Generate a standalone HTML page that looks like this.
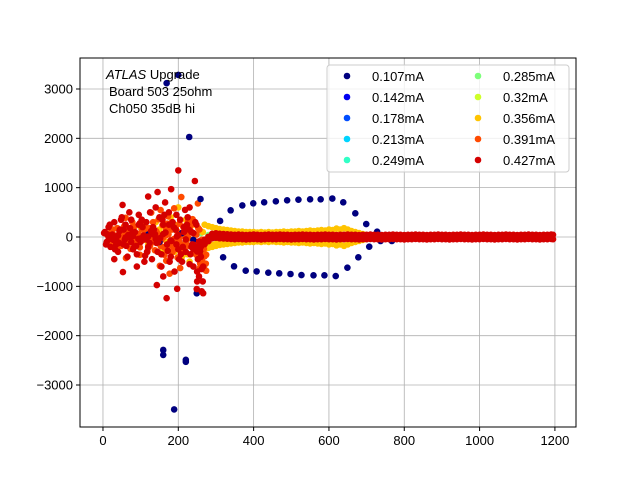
<!DOCTYPE html>
<html><head><meta charset="utf-8"><style>
body{margin:0;background:#fff;}
svg{display:block;font-family:"Liberation Sans","DejaVu Sans",sans-serif;}
</style></head><body>
<svg id="chart" width="640" height="480" viewBox="0 0 640 480"></svg>
<script>
// ---- data ----
const seriesLabels = ["0.107mA","0.142mA","0.178mA","0.213mA","0.249mA","0.285mA","0.32mA","0.356mA","0.391mA","0.427mA"];
const seriesColors = ["#00007f","#0000f1","#004dff","#00d4ff","#31ffc6","#7dff7a","#ceff29","#ffc400","#ff4a00","#d40000"];
const xTicks = [0,200,400,600,800,1000,1200];
const yTicks = [-3000,-2000,-1000,0,1000,2000,3000];
// navy (0.107mA)
const navyX = [259,311,339,370,399,428,459,489,519,550,578,609,638,670,699,728,
  319,348,379,408,439,468,498,527,559,588,618,649,678,707,737,767,
  169,200,229,160,160,220,220,189,249,150,120,210,240];
const navyY = [770,325,540,640,683,703,723,743,757,764,764,780,703,480,263,108,
  -412,-595,-683,-697,-724,-737,-750,-771,-777,-777,-791,-622,-412,-196,-81,-81,
  3117,3284,2027,-2290,-2390,-2490,-2530,-3495,-1142,-100,50,80,-60];
// orange (0.356mA) band + cloud
const orangeX = [100,120,140,160,180,190,200,210,220,230,240,250,260,270,280,290,300,310,320,340,360,380,400,420,440,460,480,500,520,540,560,580,600,620,640,660,680,700,720,750,
  150,170,190,205,215,225,235,245,255,265];
const orangeY = [200,-150,300,-250,400,-300,600,-400,350,-500,250,-200,-300,-250,-180,-160,-140,-120,-110,-100,-90,-80,-80,-70,-70,-60,-60,-50,-50,-60,-50,-40,-50,-60,-40,-30,-30,-20,-10,-10,
  150,-100,250,-200,120,-350,300,-150,-250,100];
const orangeX2 = [270,280,290,300,310,320,330,340,350,360,370,380,390,400,410,420,430,440,450,460,470,480,490,500,510,520,530,540,550,560,570,580,590,600,610,620,630,640,650,660,670,680,690,700];
const orangeY2 = [250,220,200,180,160,150,140,130,120,110,110,100,100,100,90,100,90,100,90,100,100,110,100,110,110,120,110,120,130,120,130,140,130,150,140,170,150,180,150,120,100,80,60,40];
// other colored minor points
const minorX = [150,190,220,260,280,300];
const minorY = [80,150,-100,-80,-40,-20];
// red (0.427mA) band
const bandX = [240,250,260,270,280,290,300,310,320,330,340,350,360,370,380,390,400,410,420,430,440,450,460,470,480,490,500,510,520,530,540,550,560,570,580,590,600,610,620,630,640,650,660,670,680,690,700,710,720,730,740,750,760,770,780,790,800,810,820,830,840,850,860,870,880,890,900,910,920,930,940,950,960,970,980,990,1000,1010,1020,1030,1040,1050,1060,1070,1080,1090,1100,1110,1120,1130,1140,1150,1160,1170,1180,1190,1195];
const bandY = [-200,-250,-150,-100,-40,20,30,20,15,10,5,0,5,0,-5,0,5,0,-5,0,5,0,0,5,0,0,-5,0,0,5,0,0,-5,0,0,5,0,0,-5,0,0,5,0,0,-5,0,0,5,0,0,-5,0,0,5,0,0,-5,0,0,5,0,0,-5,0,0,5,0,0,-5,0,0,5,0,0,-5,0,0,5,0,0,-5,0,0,5,0,0,-5,0,0,5,0,0,-5,0,0,5,0];
// red (0.427mA) cloud
const redX = [5,10,15,20,25,30,35,40,45,50,55,60,65,70,75,80,85,90,95,100,105,110,115,120,125,130,135,140,145,150,155,160,165,170,175,180,185,190,195,200,205,210,215,220,225,230,235,240,245,250,255,260,265,
  12,28,44,62,78,94,108,124,138,152,166,182,196,212,228,244,258,
  52,53,145,143,169,197,181,244,200,266,249,120,90,70,30,160,230,250,262,
  20,40,60,80,100,120,140,160,180,200,220,240,255,
  8,18,32,48,58,72,88,98,112,128,142,158,172,188,202,218,232,248,262,
  15,35,55,75,95,115,135,155,175,195,215,235,252,266,
  3,23,43,67,83,103,117,133,147,163,177,193,207,223,237,257];
const redY = [100,-100,200,-200,50,300,-50,-300,150,400,-150,250,-400,0,350,-250,100,-350,450,-100,200,-500,300,-200,500,-450,150,600,-300,400,-600,250,700,-150,500,-400,300,-700,450,-250,350,-500,200,-300,400,-550,100,-600,300,-700,-800,-400,-900,
  50,-60,120,-180,80,-40,30,-120,60,-20,90,-80,10,-200,150,-250,-300,
  650,-710,910,-975,-1240,-1050,970,1135,1350,-1140,-1055,820,-600,500,-450,-800,600,-900,-1100,
  -20,30,-10,20,-30,10,-40,60,-70,40,-50,80,-90,
  -150,250,-250,350,-50,180,-180,280,-380,120,-120,350,-280,200,-450,550,-350,250,-650,
  0,-150,150,-100,250,-50,50,-350,250,-150,100,-200,-450,-600,
  80,-40,-120,40,-200,350,-300,200,-100,450,-500,150,-350,250,-150,-250];
// ---- axes ----
const L=80,R=576,T=58,B=427;
const xMin=-61,xMax=1256,yMin=-3851,yMax=3628;
const X=v=>L+(v-xMin)/(xMax-xMin)*(R-L);
const Y=v=>B-(v-yMin)/(yMax-yMin)*(B-T);
const NS="http://www.w3.org/2000/svg";
const svg=document.getElementById('chart');
function mk(tag,attrs,parent){const e=document.createElementNS(NS,tag);for(const k in attrs)e.setAttribute(k,attrs[k]);(parent||svg).appendChild(e);return e;}
// grid
const grid=mk('g',{});


xTicks.forEach(t=>{const l=mk('line',{x1:X(t),x2:X(t),y1:T,y2:B,stroke:'#b0b0b0','stroke-width':0.8},grid);

});
yTicks.forEach(t=>{const l=mk('line',{x1:L,x2:R,y1:Y(t),y2:Y(t),stroke:'#b0b0b0','stroke-width':0.8},grid);

});
// points
function dots(xs,ys,color,name){const g=mk('g',{fill:color});


xs.forEach((x,i)=>{const c=mk('circle',{cx:X(x),cy:Y(ys[i]),r:3.3},g);

});}
dots(minorX,minorY,seriesColors[3],'series-0213mA');
dots(minorX,minorY.map(v=>-v),seriesColors[5],'series-0285mA');
dots(orangeX,orangeY,seriesColors[7],'series-0356mA');
dots(orangeX2,orangeY2,seriesColors[7],'series-0356mA-upper');
dots(orangeX2,orangeY2.map(v=>-v),seriesColors[7],'series-0356mA-lower');
dots(redX.map(v=>v+8),redY.map(v=>v*0.6),seriesColors[8],'series-0391mA');
dots(navyX,navyY,seriesColors[0],'series-0107mA');
dots(redX,redY,seriesColors[9],'series-0427mA-cloud');
dots(bandX,bandY.map(v=>v+45),seriesColors[9],'series-0427mA-band-upper');
dots(bandX,bandY.map(v=>v-45),seriesColors[9],'series-0427mA-band-lower');
// frame
const fr=mk('rect',{x:L,y:T,width:R-L,height:B-T,fill:'none',stroke:'#000','stroke-width':1});


// ticks
xTicks.forEach(t=>{mk('line',{x1:X(t),x2:X(t),y1:B,y2:B+4,stroke:'#000'});
const tx=mk('text',{x:X(t),y:B+18,'text-anchor':'middle','font-size':13});tx.textContent=t;

});
yTicks.forEach(t=>{mk('line',{x1:L-4,x2:L,y1:Y(t),y2:Y(t),stroke:'#000'});
const tx=mk('text',{x:L-7,y:Y(t)+4.5,'text-anchor':'end','font-size':13});tx.textContent=(t<0?'\u2212'+(-t):t);

});
// annotation
const an=mk('text',{x:106,y:79,'font-size':13});


an.innerHTML='<tspan font-style="italic">ATLAS</tspan> Upgrade';
const a2=mk('text',{x:109,y:96,'font-size':13});a2.textContent='Board 503 25ohm';


const a3=mk('text',{x:109,y:113,'font-size':13});a3.textContent='Ch050 35dB hi';


// legend
const lg=mk('g',{});


mk('rect',{x:327,y:65,width:242,height:107,rx:3,fill:'#fff','fill-opacity':0.8,stroke:'#ccc'},lg);
seriesLabels.forEach((s,i)=>{const col=i<5?0:1,row=i%5;
const e=mk('g',{},lg);


const bx=col?478:347,by=76+row*21;
mk('circle',{cx:bx,cy:by,r:3.3,fill:seriesColors[i]},e);
const t=mk('text',{x:bx+25,y:by+5,'font-size':13},e);t.textContent=s;});
</script>
</body></html>
